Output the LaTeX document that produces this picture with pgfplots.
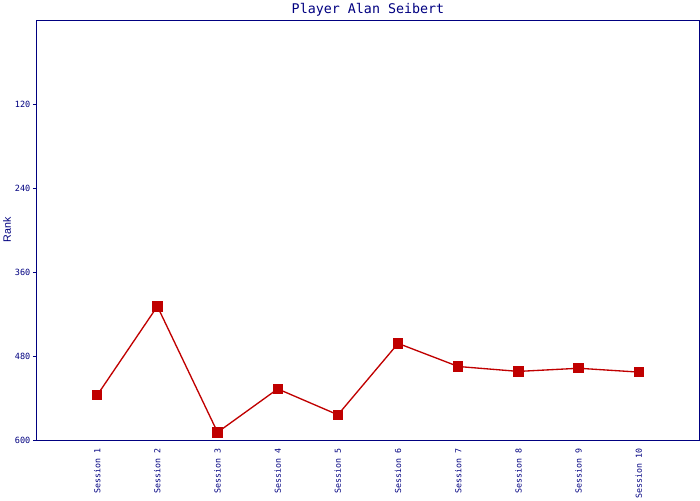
\documentclass[border=0pt]{standalone}
\usepackage{fontspec}
\setmainfont{Liberation Sans}
\setmonofont{DejaVu Sans Mono}
\usepackage{pgfplots}
\pgfplotsset{compat=1.18}
\definecolor{navy}{RGB}{0,0,128}
\definecolor{linered}{RGB}{192,0,0}
\begin{document}
\begin{tikzpicture}[x=1pt,y=1pt]
\begin{axis}[
  name=ax,
  at={(0,0)}, anchor=south west,
  scale only axis,
  width=496.5pt, height=315pt,
  xmin=0, xmax=11,
  ymin=0, ymax=600,
  y dir=reverse,
  axis line style={navy, line width=0.75pt},
  xtick={1,2,3,4,5,6,7,8,9,10},
  xticklabels={Session 1,Session 2,Session 3,Session 4,Session 5,Session 6,Session 7,Session 8,Session 9,Session 10},
  x tick label style={font=\ttfamily\fontsize{6.2}{7}\selectfont, text=navy, rotate=90, anchor=east},
  major x tick style={draw=none},
  ytick={120,240,360,480,600},
  y tick label style={font=\ttfamily\fontsize{6.4}{7}\selectfont, text=navy, xshift=1.5pt},
  /pgf/number format/assume math mode=true,
  ytick pos=left,
  tick align=outside,
  major tick length=3pt,
  major y tick style={navy, line width=0.75pt},
  ylabel={Rank},
  ylabel style={font=\fontsize{8}{9}\selectfont, text=navy, at={(rel axis cs:0,0.5)}, anchor=south, yshift=16pt},
  title={Player Alan Seibert},
  title style={font=\ttfamily\fontsize{10}{12}\selectfont, text=navy, yshift=-6.75pt},
  clip=false,
]
\addplot[color=linered, line width=1pt, mark=square*, mark size=3.4pt, mark options={fill=linered, draw=linered}]
coordinates {
(1,536) (2,409) (3,589) (4,527) (5,564) (6,462) (7,495) (8,502) (9,497.5) (10,503)
};
\end{axis}
\pgfresetboundingbox
\path (-27.75pt,-45pt) rectangle (497.25pt,330pt);
\end{tikzpicture}
\end{document}
